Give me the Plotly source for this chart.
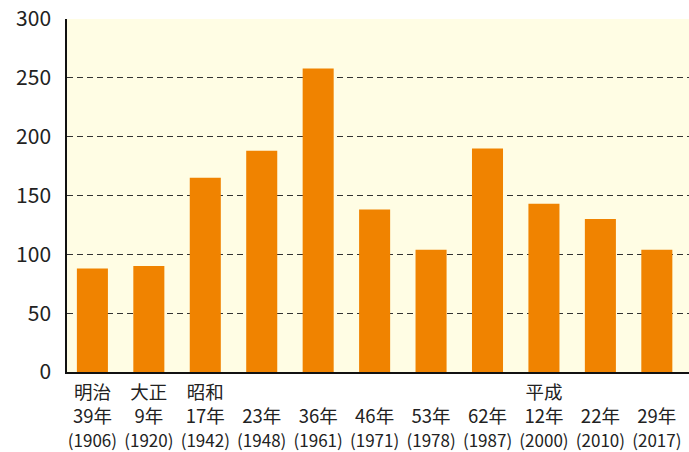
import plotly.graph_objects as go

eras = ["明治", "大正", "昭和", "", "", "", "", "", "平成", "", ""]
years_jp = ["39年", "9年", "17年", "23年", "36年", "46年", "53年", "62年", "12年", "22年", "29年"]
years_ad = ["1906", "1920", "1942", "1948", "1961", "1971", "1978", "1987", "2000", "2010", "2017"]
values = [88, 90, 165, 188, 258, 138, 104, 190, 143, 130, 104]
y_ticks = [0, 50, 100, 150, 200, 250, 300]

xs = list(range(len(values)))
ticktext = [
    f"{e if e else ' '}<br>{j}<br><span style='font-family:\"Liberation Sans Narrow\", \"Noto Sans CJK JP\", sans-serif;font-size:17px'>({a})</span>"
    for e, j, a in zip(eras, years_jp, years_ad)
]

fig = go.Figure(go.Bar(x=xs, y=values, marker=dict(color="#F08300", line=dict(width=0))))

fig.update_layout(
    width=689, height=452,
    margin=dict(l=67, r=0, t=19, b=80, autoexpand=False),
    paper_bgcolor="white",
    plot_bgcolor="#FFFDE4",
    bargap=0.45,
    showlegend=False,
    font=dict(family="Noto Sans CJK JP", color="#222222"),
)
fig.update_xaxes(
    range=[-0.45, 10.57],
    tickmode="array", tickvals=xs, ticktext=ticktext,
    tickfont=dict(size=18.5, color="#222222"), tickangle=0,
    showgrid=False, zeroline=False,
    showline=True, linecolor="#111111", linewidth=2,
    ticks="", ticklabelstandoff=3, automargin=False,
)
fig.update_yaxes(
    range=[0, 300],
    tickmode="array", tickvals=y_ticks,
    tickfont=dict(size=21, color="#222222"),
    showgrid=True, gridcolor="#333333", gridwidth=1.2, griddash="6px,4px",
    zeroline=False,
    showline=True, linecolor="#111111", linewidth=1.5,
    ticks="", ticklabelstandoff=10, automargin=False,
)

# remove the browser's default 8px body margin so the figure sits at the page corner
fig.write_html(
    "out.html",
    config={"displayModeBar": False},
    post_script="document.body.style.margin='0';",
)
